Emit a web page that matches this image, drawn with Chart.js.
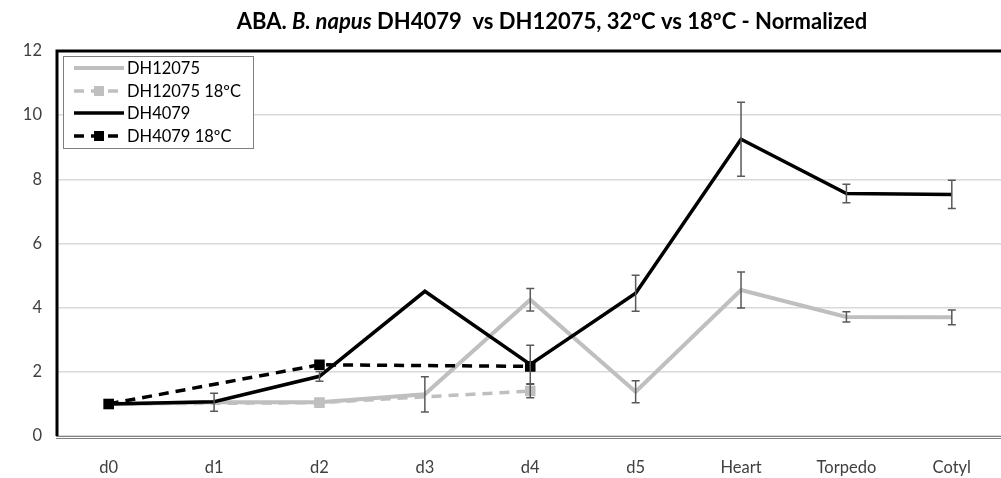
<!DOCTYPE html>
<html lang="en">
<head>
  <meta charset="UTF-8">
  <title>ABA B. napus DH4079 vs DH12075</title>
  <script src="https://cdn.jsdelivr.net/npm/chart.js"></script>
  <style>
    html, body { margin: 0; padding: 0; background: #fff; overflow: hidden; }
    canvas { display: block; }
  </style>
</head>
<body>
  <canvas id="abaChart" width="1013" height="478"></canvas>

  <script>
    // stages on the x axis
    const stages = ['d0', 'd1', 'd2', 'd3', 'd4', 'd5', 'Heart', 'Torpedo', 'Cotyl'];
    const yTicks = [0, 2, 4, 6, 8, 10, 12];

    // normalized ABA values
    const dh12075 = [1.0, 1.05, 1.05, 1.3, 4.25, 1.38, 4.55, 3.71, 3.7];
    const dh12075Err = [null, 0.28, null, 0.55, 0.35, 0.34, 0.56, 0.16, 0.23];
    const dh12075Cold = [1.0, null, 1.04, null, 1.4, null, null, null, null];
    const dh12075ColdErr = [null, null, null, null, 0.21, null, null, null, null];
    const dh4079 = [1.0, 1.07, 1.86, 4.51, 2.23, 4.45, 9.25, 7.56, 7.53];
    const dh4079Err = [null, null, 0.15, null, 0.6, 0.56, 1.15, 0.29, 0.44];
    const dh4079Cold = [1.0, null, 2.22, null, 2.17, null, null, null, null];
    const dh4079ColdErr = [null, null, null, null, null, null, null, null, null];

    const FONT = 'Lato, "Open Sans", sans-serif';
    const GRAY = '#bfbfbf';

    // error bars, title, frame and legend are drawn on top of the chart
    const extras = {
      id: 'extras',
      afterDatasetsDraw(chart) {
        const { ctx, scales: { x, y } } = chart;
        ctx.save();
        ctx.strokeStyle = '#595959';
        ctx.lineWidth = 1.5;
        chart.data.datasets.forEach(ds => {
          ds.errors.forEach((e, i) => {
            if (e == null || ds.data[i] == null) return;
            const px = x.getPixelForValue(i);
            const top = y.getPixelForValue(ds.data[i] + e);
            const bot = y.getPixelForValue(ds.data[i] - e);
            ctx.beginPath();
            ctx.moveTo(px, top); ctx.lineTo(px, bot);
            ctx.moveTo(px - 4, top); ctx.lineTo(px + 4, top);
            ctx.moveTo(px - 4, bot); ctx.lineTo(px + 4, bot);
            ctx.stroke();
          });
        });
        ctx.restore();
      },
      afterDraw(chart) {
        const { ctx, chartArea: a } = chart;
        ctx.save();

        // frame: thick black top/left, double gray bottom
        ctx.strokeStyle = '#000';
        ctx.lineWidth = 3;
        ctx.beginPath();
        ctx.moveTo(a.left + 1, a.bottom);
        ctx.lineTo(a.left + 1, a.top);
        ctx.lineTo(a.right + 10, a.top);
        ctx.stroke();
        ctx.strokeStyle = '#7f7f7f';
        ctx.lineWidth = 1;
        ctx.beginPath();
        ctx.moveTo(a.left, a.bottom + 0.5); ctx.lineTo(a.right + 10, a.bottom + 0.5);
        ctx.moveTo(a.left, a.bottom + 2.5); ctx.lineTo(a.right + 10, a.bottom + 2.5);
        ctx.stroke();

        // title with italic species name
        const parts = [
          ['bold', 'ABA. '],
          ['italic bold', 'B. napus'],
          ['bold', ' DH4079  vs DH12075, 32ºC vs 18ºC - Normalized']
        ];
        ctx.fillStyle = '#000';
        ctx.textBaseline = 'middle';
        let total = 0;
        parts.forEach(p => { ctx.font = `${p[0]} 22px ${FONT}`; total += ctx.measureText(p[1]).width; });
        let tx = 552 - total / 2;
        parts.forEach(p => {
          ctx.font = `${p[0]} 22px ${FONT}`;
          ctx.fillText(p[1], tx, 22);
          tx += ctx.measureText(p[1]).width;
        });

        // legend box
        ctx.fillStyle = '#fff';
        ctx.fillRect(63, 56, 190, 92);
        ctx.strokeStyle = '#7f7f7f';
        ctx.lineWidth = 1;
        ctx.strokeRect(63.5, 56.5, 190, 92);
        const rows = [68, 91, 113, 136];
        chart.data.datasets.forEach((ds, r) => {
          const ly = rows[r];
          ctx.strokeStyle = ds.borderColor;
          ctx.lineWidth = ds.borderWidth;
          ctx.setLineDash(ds.borderDash || []);
          ctx.beginPath();
          ctx.moveTo(74, ly); ctx.lineTo(124, ly);
          ctx.stroke();
          ctx.setLineDash([]);
          if (ds.pointRadius > 0) {
            ctx.fillStyle = ds.pointBackgroundColor;
            ctx.fillRect(99 - 5, ly - 5, 10, 10);
          }
          ctx.fillStyle = '#000';
          ctx.font = `16.5px ${FONT}`;
          ctx.fillText(ds.label, 127, ly + 1);
        });
        ctx.restore();
      }
    };

    new Chart(document.querySelector('#abaChart'), {
      type: 'line',
      data: {
        labels: stages,
        datasets: [
          {
            label: 'DH12075', data: dh12075, errors: dh12075Err,
            borderColor: GRAY, borderWidth: 4, pointRadius: 0, order: 4
          },
          {
            label: 'DH12075 18ºC', data: dh12075Cold, errors: dh12075ColdErr,
            borderColor: GRAY, borderWidth: 3.5, borderDash: [10, 7],
            pointStyle: 'rect', pointRadius: 5, pointBackgroundColor: GRAY, pointBorderColor: GRAY,
            spanGaps: true, order: 3
          },
          {
            label: 'DH4079', data: dh4079, errors: dh4079Err,
            borderColor: '#000', borderWidth: 3.5, pointRadius: 0, order: 2
          },
          {
            label: 'DH4079 18ºC', data: dh4079Cold, errors: dh4079ColdErr,
            borderColor: '#000', borderWidth: 3.5, borderDash: [10, 7],
            pointStyle: 'rect', pointRadius: 5, pointBackgroundColor: '#000', pointBorderColor: '#000',
            spanGaps: true, order: 1
          }
        ]
      },
      options: {
        responsive: false,
        animation: false,
        layout: { padding: { top: 51, right: 0, left: 0, bottom: 0 } },
        plugins: {
          legend: { display: false },
          title: { display: false },
          tooltip: { enabled: false }
        },
        elements: { line: { tension: 0, borderCapStyle: 'butt' } },
        scales: {
          x: {
            offset: true,
            grid: { display: false },
            border: { display: false },
            ticks: { color: '#404040', font: { family: FONT, size: 16.5 }, padding: 14 },
            afterFit(scale) { scale.height = 42; }
          },
          y: {
            min: 0, max: 12,
            afterBuildTicks(scale) { scale.ticks = yTicks.map(v => ({ value: v })); },
            grid: { color: '#d9d9d9', lineWidth: 1.5, drawTicks: false },
            border: { display: false },
            ticks: { color: '#404040', font: { family: FONT, size: 16.5 }, padding: 14 },
            afterFit(scale) { scale.width = 56; }
          }
        }
      },
      plugins: [extras]
    });
  </script>
</body>
</html>
